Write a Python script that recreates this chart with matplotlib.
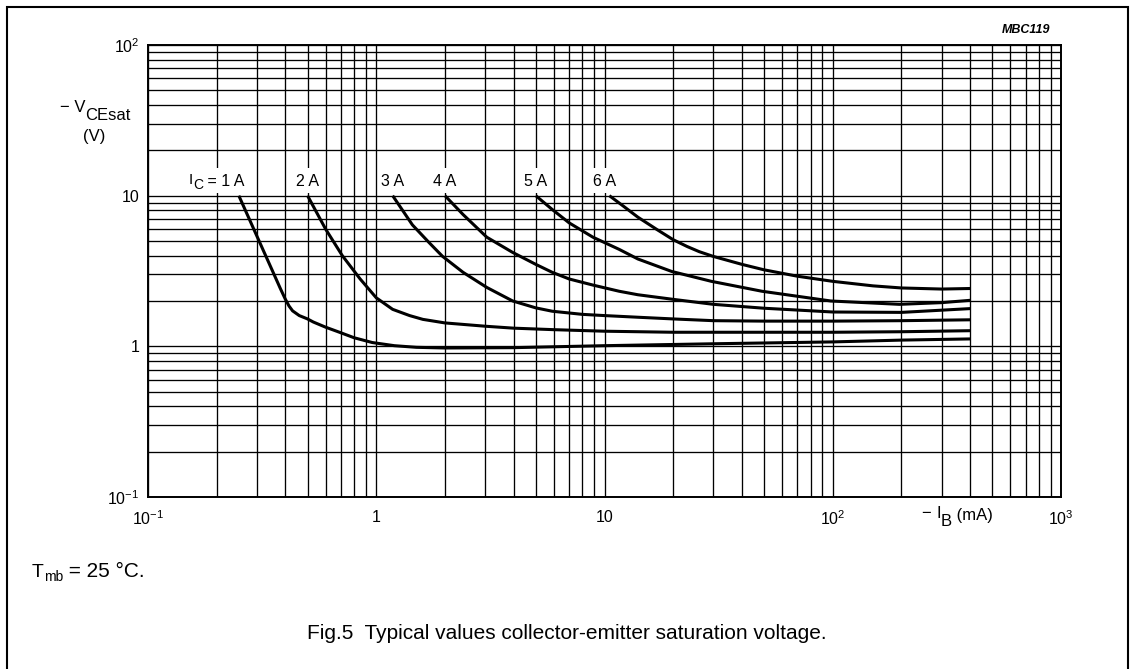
import matplotlib
matplotlib.use("Agg")
import matplotlib.pyplot as plt
from matplotlib.patches import Rectangle
from matplotlib.ticker import LogLocator, NullFormatter

plt.rcParams['font.family'] = ['Liberation Sans', 'DejaVu Sans']
plt.rcParams['mathtext.fontset'] = 'custom'
plt.rcParams['mathtext.rm'] = 'Liberation Sans'
plt.rcParams['mathtext.it'] = 'Liberation Sans:italic'
plt.rcParams['mathtext.bf'] = 'Liberation Sans:bold'

# ---- data ----
ib_1A = [0.25, 0.3, 0.35, 0.38, 0.40, 0.415, 0.43, 0.46, 0.5, 0.53, 0.6, 0.69, 0.8, 0.96, 1.2, 1.5, 2, 4, 10, 30, 100, 200, 400]
v_1A = [10, 5.39, 3.2, 2.42, 2.05, 1.85, 1.72, 1.6, 1.52, 1.45, 1.34, 1.24, 1.14, 1.06, 1.01, 0.985, 0.975, 0.98, 1.01, 1.04, 1.07, 1.1, 1.12]

ib_2A = [0.5, 0.6, 0.71, 0.85, 1.0, 1.18, 1.4, 1.6, 2, 3, 4, 6, 10, 20, 50, 100, 200, 400]
v_2A = [10, 6.0, 4.0, 2.8, 2.1, 1.76, 1.6, 1.51, 1.43, 1.36, 1.32, 1.29, 1.26, 1.24, 1.24, 1.24, 1.25, 1.27]

ib_3A = [1.18, 1.44, 1.7, 1.95, 2.4, 3.05, 3.96, 5, 5.9, 8, 10, 14, 20, 30, 50, 100, 200, 400]
v_3A = [10, 6.4, 4.9, 3.96, 3.1, 2.46, 2.0, 1.8, 1.71, 1.63, 1.6, 1.56, 1.52, 1.48, 1.47, 1.47, 1.48, 1.5]

ib_4A = [2, 2.4, 3.05, 3.96, 5, 5.9, 7, 8.9, 11.6, 14, 20, 30, 50, 100, 200, 400]
v_4A = [10, 7.5, 5.3, 4.2, 3.5, 3.1, 2.8, 2.55, 2.32, 2.2, 2.05, 1.9, 1.79, 1.69, 1.68, 1.78]

ib_5A = [5, 5.9, 7, 8.9, 11.6, 14, 19.7, 29.4, 49, 98, 196, 300, 400]
v_5A = [10, 8.1, 6.6, 5.3, 4.4, 3.8, 3.14, 2.7, 2.32, 2.0, 1.9, 1.95, 2.02]

ib_6A = [10.5, 12, 14, 17, 20, 23, 26, 30, 40, 50, 70, 100, 150, 200, 300, 400]
v_6A = [10, 8.6, 7.2, 5.95, 5.1, 4.6, 4.25, 3.95, 3.5, 3.22, 2.92, 2.7, 2.52, 2.44, 2.4, 2.42]

# curve labels: list of (text, size, baseline shift px) pieces
curve_labels = [
    [("I", 11, -2), ("C", 10, 3), (" = 1 A", 11.5, 0)],
    [("2 A", 11.5, 0)],
    [("3 A", 11.5, 0)],
    [("4 A", 11.5, 0)],
    [("5 A", 11.5, 0)],
    [("6 A", 11.5, 0)],
]
label_x = [0.2, 0.5, 1.18, 2, 5, 10]
label_v = 12.6

x_ticks = [0.1, 1, 10, 100, 1000]
x_tick_labels = ["$10^{-1}$", "1", "10", "$10^{2}$", "$10^{3}$"]
y_ticks = [0.1, 1, 10, 100]
y_tick_labels = ["$10^{-1}$", "1", "10", "$10^{2}$"]

# ---- figure ----
W, H = 1133, 669
fig = plt.figure(figsize=(W / 100, H / 100), dpi=100)
ax = fig.add_axes([148 / W, 1 - 497 / H, (1061 - 148) / W, (497 - 45) / H])
renderer = fig.canvas.get_renderer()


def piece_widths(pieces):
    ws = []
    for s, fs, dy in pieces:
        t = fig.text(0, 0, s, fontsize=fs)
        ws.append(t.get_window_extent(renderer=renderer).width)
        t.remove()
    return ws


def rich(x_px, base_px, pieces, ha='left', zorder=3):
    """x_px from left, base_px = baseline measured from top (pixels)."""
    ws = piece_widths(pieces)
    total = sum(ws)
    x0 = x_px - total / 2 if ha == 'center' else x_px
    for (s, fs, dy), w in zip(pieces, ws):
        fig.text(x0 / W, 1 - (base_px + dy) / H, s, fontsize=fs,
                 ha='left', va='baseline', zorder=zorder)
        x0 += w
    return total


ax.set_xscale('log')
ax.set_yscale('log')
ax.set_xlim(0.1, 1000)
ax.set_ylim(0.1, 100)

ax.xaxis.set_minor_locator(LogLocator(base=10, subs=range(2, 10)))
ax.yaxis.set_minor_locator(LogLocator(base=10, subs=range(2, 10)))
ax.xaxis.set_minor_formatter(NullFormatter())
ax.yaxis.set_minor_formatter(NullFormatter())
ax.set_xticks(x_ticks)
ax.set_xticklabels(x_tick_labels)
ax.set_yticks(y_ticks)
ax.set_yticklabels(y_tick_labels)
ax.tick_params(which='both', length=0)
ax.tick_params(axis='x', pad=9, labelsize=11.5)
ax.tick_params(axis='y', pad=6, labelsize=11.5)

ax.grid(which='both', color='black', linewidth=0.95)
ax.set_axisbelow(True)
for s in ax.spines.values():
    s.set_linewidth(1.4)

for xs, vs in [(ib_1A, v_1A), (ib_2A, v_2A), (ib_3A, v_3A), (ib_4A, v_4A), (ib_5A, v_5A), (ib_6A, v_6A)]:
    ax.plot(xs, vs, color='black', linewidth=2.2, zorder=4, solid_capstyle='butt')

# curve labels with white background that interrupts the grid
for pieces, lx in zip(curve_labels, label_x):
    px, py = ax.transData.transform((lx, label_v))
    cy = H - py  # from top
    w = sum(piece_widths(pieces))
    fig.add_artist(Rectangle(((px - w / 2 - 3) / W, 1 - (cy + 12.5) / H), (w + 6) / W, 25 / H,
                             transform=fig.transFigure, facecolor='white', edgecolor='none', zorder=2))
    rich(px, cy + 5.5, pieces, ha='center')

# axis titles
rich(60, 112, [("\u2212 V", 12, 0), ("CEsat", 12, 8)])
rich(94, 141, [("(V)", 12, 0)], ha='center')
rich(922, 518, [("\u2212 ", 12, 0), ("I", 12, 0), ("B", 12, 8), (" (mA)", 12, 2)])

fig.text(1026 / W, 1 - 30 / H, "MBC119", ha='center', va='center', fontsize=9,
         fontweight='bold', fontstyle='italic')

rich(32, 577, [("T", 14, 0), ("mb", 10, 4), (" = 25 \u00b0C.", 15, 0)])
fig.text(567 / W, 1 - 639 / H, "Fig.5  Typical values collector-emitter saturation voltage.",
         ha='center', va='baseline', fontsize=15)

fig.add_artist(Rectangle((7 / W, -0.02), (1128 - 7) / W, 1 - 7 / H + 0.02,
                         transform=fig.transFigure, fill=False, edgecolor='black', linewidth=1.5))

fig.savefig("out.png", dpi=100)
